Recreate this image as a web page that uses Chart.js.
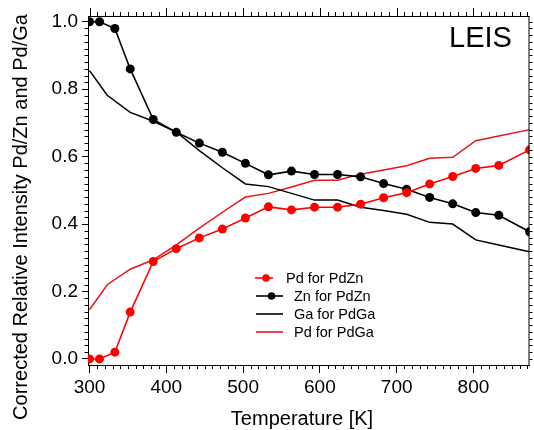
<!DOCTYPE html>
<html>
<head>
<meta charset="utf-8">
<script src="https://cdn.jsdelivr.net/npm/chart.js@4.4.1/dist/chart.umd.min.js"></script>
<style>
  body { margin: 0; background: #fff; }
  #wrap { width: 534px; height: 430px; }
</style>
</head>
<body>
<div id="wrap"><canvas id="leisChart"></canvas></div>
<script>
// Temperatures [K]
const tempsPdZn = [300, 313, 333, 353, 383, 413, 443, 473, 503, 533, 563, 593, 623, 653, 683, 713, 743, 773, 803, 833, 873];
const tempsPdGa = [300, 323, 353, 383, 413, 443, 473, 503, 533, 563, 593, 623, 653, 683, 713, 743, 773, 803, 833, 873];

// Corrected relative intensities
const pdForPdZn = [0.0, 0.0, 0.02, 0.139, 0.289, 0.327, 0.359, 0.385, 0.418, 0.451, 0.442, 0.45, 0.45, 0.459, 0.478, 0.493, 0.519, 0.541, 0.565, 0.574, 0.62];
const znForPdZn = [1.0, 1.0, 0.98, 0.86, 0.71, 0.672, 0.64, 0.613, 0.58, 0.546, 0.557, 0.547, 0.547, 0.54, 0.52, 0.503, 0.479, 0.46, 0.434, 0.426, 0.377];
const gaForPdGa = [0.855, 0.782, 0.731, 0.705, 0.673, 0.618, 0.567, 0.519, 0.511, 0.491, 0.471, 0.471, 0.45, 0.44, 0.429, 0.405, 0.40, 0.353, 0.338, 0.318];
const pdForPdGa = [0.146, 0.22, 0.266, 0.294, 0.338, 0.388, 0.435, 0.48, 0.491, 0.51, 0.53, 0.53, 0.548, 0.56, 0.573, 0.595, 0.598, 0.647, 0.661, 0.68];

const seriesLabels = ['Pd for PdZn', 'Zn for PdZn', 'Ga for PdGa', 'Pd for PdGa'];
const xTickValues = [300, 400, 500, 600, 700, 800];
const yTickValues = [0, 0.2, 0.4, 0.6, 0.8, 1.0];

const FONT = '"Liberation Sans", Arial, sans-serif';
const RED = '#ff0000';
const RED_LINE = '#e8141a';

function toPoints(temps, vals) {
    return temps.map((t, i) => ({ x: t, y: vals[i] }));
}

// Frame, minor ticks, legend, titles and the LEIS tag
const decorations = {
    id: 'decorations',
    afterDraw(chart) {
        const { ctx, chartArea: a, scales: { x, y } } = chart;
        ctx.save();
        ctx.strokeStyle = '#000';
        ctx.lineWidth = 1;
        ctx.beginPath();
        ctx.moveTo(a.left, a.top + 0.5);
        ctx.lineTo(a.right, a.top + 0.5);
        ctx.moveTo(a.right - 0.5, a.top);
        ctx.lineTo(a.right - 0.5, a.bottom);

        for (let t = 300; t <= 870; t += 10) {
            const px = Math.round(x.getPixelForValue(t)) + 0.5;
            const major = t % 100 === 0;
            ctx.moveTo(px, a.top);
            ctx.lineTo(px, a.top - (major ? 8 : 4));
            if (!major) {
                ctx.moveTo(px, a.bottom);
                ctx.lineTo(px, a.bottom + 4);
            }
        }
        for (let i = 0; i <= 50; i++) {
            const py = Math.round(y.getPixelForValue(i / 50)) + 0.5;
            if (i % 10 !== 0) {
                ctx.moveTo(a.left, py);
                ctx.lineTo(a.left - 3.5, py);
            }
            ctx.moveTo(a.right, py);
            ctx.lineTo(a.right + 3, py);
        }
        ctx.stroke();

        // legend
        const ds = chart.data.datasets;
        const rows = [
            { y: 278, x0: 255, x1: 273, dot: 266, tx: 286 },
            { y: 296, x0: 256, x1: 283, dot: 271.5, tx: 294 },
            { y: 314, x0: 256, x1: 283, dot: null, tx: 294 },
            { y: 332, x0: 256, x1: 283, dot: null, tx: 294 }
        ];
        ctx.font = '14.5px ' + FONT;
        ctx.textBaseline = 'middle';
        ctx.textAlign = 'left';
        rows.forEach((r, i) => {
            ctx.strokeStyle = ds[i].borderColor;
            ctx.lineWidth = 1.6;
            ctx.beginPath();
            ctx.moveTo(r.x0, r.y);
            ctx.lineTo(r.x1, r.y);
            ctx.stroke();
            if (r.dot !== null) {
                ctx.fillStyle = ds[i].borderColor;
                ctx.beginPath();
                ctx.arc(r.dot, r.y, 3.8, 0, Math.PI * 2);
                ctx.fill();
            }
            ctx.fillStyle = '#000';
            ctx.fillText(ds[i].label, r.tx, r.y + 0.5);
        });

        // LEIS tag
        ctx.font = '29px ' + FONT;
        ctx.textBaseline = 'alphabetic';
        ctx.fillText('LEIS', 449, 47);

        // axis titles
        ctx.font = '20px ' + FONT;
        ctx.textAlign = 'center';
        ctx.fillText('Temperature [K]', 302, 425);
        ctx.translate(21, 217);
        ctx.rotate(-Math.PI / 2);
        ctx.textBaseline = 'middle';
        ctx.fillText('Corrected Relative Intensity Pd/Zn and Pd/Ga', 0, 0);
        ctx.restore();
    }
};

new Chart(document.getElementById('leisChart'), {
    type: 'line',
    data: {
        datasets: [
            {
                label: seriesLabels[0],
                data: toPoints(tempsPdZn, pdForPdZn),
                borderColor: RED,
                backgroundColor: RED,
                borderWidth: 1.6,
                pointRadius: 4.5,
                pointBorderWidth: 0
            },
            {
                label: seriesLabels[1],
                data: toPoints(tempsPdZn, znForPdZn),
                borderColor: '#000',
                backgroundColor: '#000',
                borderWidth: 1.6,
                pointRadius: 4.5,
                pointBorderWidth: 0
            },
            {
                label: seriesLabels[2],
                data: toPoints(tempsPdGa, gaForPdGa),
                borderColor: '#000',
                borderWidth: 1.5,
                pointRadius: 0
            },
            {
                label: seriesLabels[3],
                data: toPoints(tempsPdGa, pdForPdGa),
                borderColor: RED_LINE,
                borderWidth: 1.5,
                pointRadius: 0
            }
        ]
    },
    options: {
        responsive: true,
        maintainAspectRatio: false,
        animation: false,
        layout: { padding: { top: 16, right: 2, left: 0, bottom: 0 } },
        plugins: {
            legend: { display: false },
            tooltip: { enabled: false }
        },
        scales: {
            x: {
                type: 'linear',
                min: 298,
                max: 873,
                afterBuildTicks: s => { s.ticks = xTickValues.map(v => ({ value: v })); },
                afterFit: s => { s.height = 65; },
                grid: { drawOnChartArea: false, tickLength: 8, color: '#000' },
                border: { color: '#000', width: 1 },
                ticks: {
                    color: '#000',
                    font: { family: FONT, size: 19 },
                    padding: 3,
                    autoSkip: false,
                    maxRotation: 0
                }
            },
            y: {
                min: -0.018,
                max: 1.017,
                afterBuildTicks: s => { s.ticks = yTickValues.map(v => ({ value: v })); },
                afterFit: s => { s.width = 88; },
                grid: { drawOnChartArea: false, tickLength: 6, color: '#000' },
                border: { color: '#000', width: 1 },
                ticks: {
                    color: '#000',
                    font: { family: FONT, size: 19 },
                    padding: 4,
                    callback: v => v.toFixed(1)
                }
            }
        }
    },
    plugins: [decorations]
});
</script>
</body>
</html>
